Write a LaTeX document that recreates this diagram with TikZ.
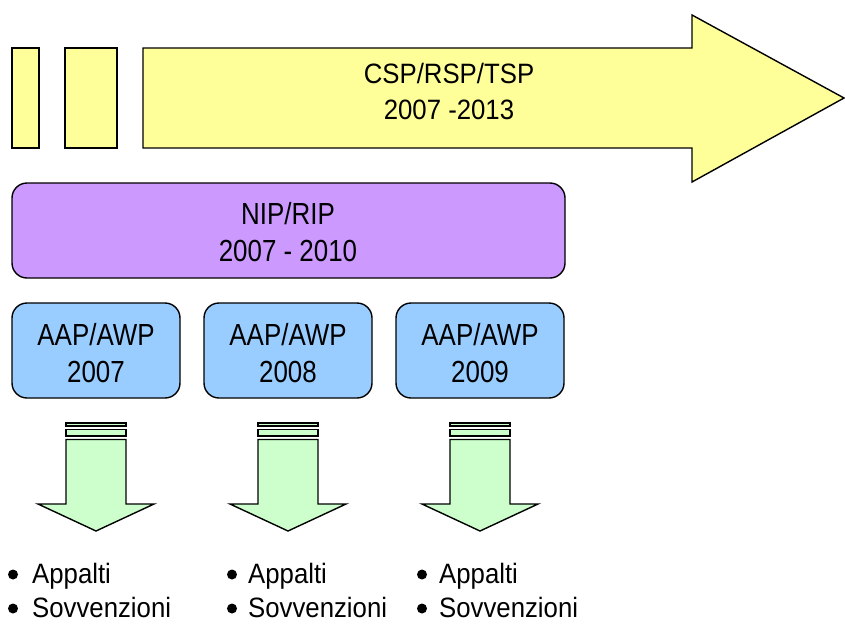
\documentclass[tikz,border=0pt]{standalone}
\usepackage{fontspec}
\setmainfont{Liberation Sans}[FakeStretch=0.92]
\newfontfamily\narrowfam{Liberation Sans}[FakeStretch=0.85]
\begin{document}
\begin{tikzpicture}[x=1pt,y=-1pt,
  shp/.style={draw=black,line width=1.4pt,line join=miter},
  ylw/.style={shp,fill=ylwc},
  grn/.style={shp,fill=grnc},
  rbox/.style={shp,rounded corners=15pt},
  lbl/.style={align=center,font=\fontsize{28}{36}\selectfont,inner sep=0pt},
  biglbl/.style={align=center,font=\narrowfam\fontsize{30.5}{36.5}\selectfont,inner sep=0pt},
  blt/.style={anchor=base west,font=\fontsize{28}{34}\selectfont,inner sep=0pt}]
\definecolor{ylwc}{HTML}{FFFF99}
\definecolor{prpc}{HTML}{CC99FF}
\definecolor{bluc}{HTML}{99CCFF}
\definecolor{grnc}{HTML}{CCFFCC}
\useasboundingbox (0,0) rectangle (845,624);
% timeline
\draw[ylw] (12,48) rectangle (39,148);
\draw[ylw] (65,48) rectangle (117,148);
\draw[ylw] (143,48) -- (692,48) -- (692,15) -- (844,98) -- (692,182) -- (692,148) -- (143,148) -- cycle;
\node[lbl] (csp) at (449,91) {CSP/RSP/TSP\\2007 -2013};
% NIP
\draw[rbox,fill=prpc] (12,183) rectangle (565,278);
\node[biglbl] (nip) at (288,232) {NIP/RIP\\2007 - 2010};
% AAP boxes and arrows
\foreach \cx/\yr in {96/2007,288/2008,480/2009}{
  \draw[rbox,fill=bluc] (\cx-84,303) rectangle (\cx+84,398);
  \node[biglbl] at (\cx,353) {AAP/AWP\\\yr};
  \draw[grn] (\cx-30,423) rectangle (\cx+30,426);
  \draw[grn] (\cx-30,429.5) rectangle (\cx+30,436);
  \draw[grn] (\cx-30,439.5) -- (\cx+30,439.5) -- (\cx+30,504) -- (\cx+58,504) -- (\cx,531) -- (\cx-58,504) -- (\cx-30,504) -- cycle;
}
% bullets
\foreach \bx/\tx in {13/32,232/248,422/439}{
  \fill (\bx,574.5) circle (5);
  \node[blt] at (\tx,583) {Appalti};
  \fill (\bx,608.5) circle (5);
  \node[blt] at (\tx,617) {Sovvenzioni};
}
\end{tikzpicture}
\end{document}
